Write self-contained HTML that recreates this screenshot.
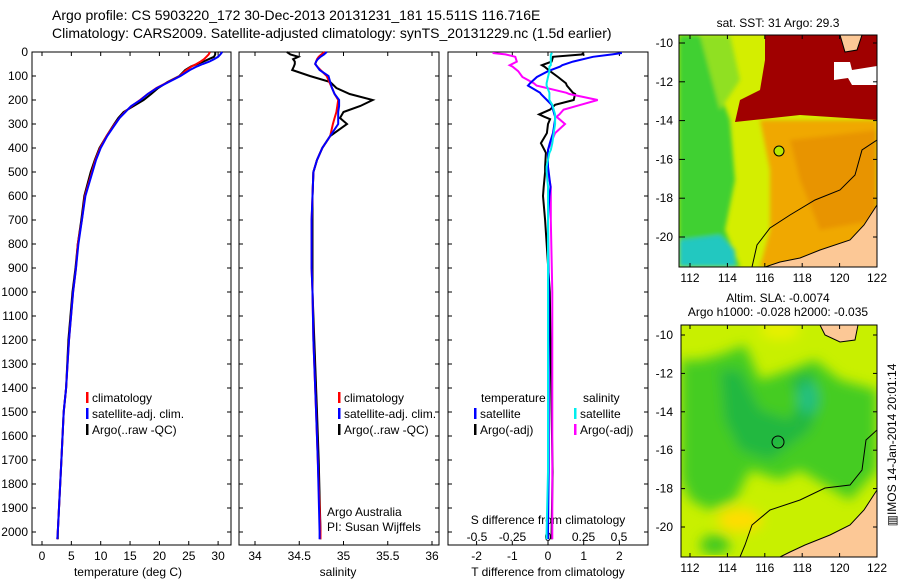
<!DOCTYPE html>
<html><head><meta charset="utf-8"><style>
body{margin:0;background:#fff;width:900px;height:580px;overflow:hidden}
svg{font-family:"Liberation Sans",sans-serif;font-size:12px}
</style></head><body>
<svg id="fig" width="900" height="580" viewBox="0 0 900 580" xmlns="http://www.w3.org/2000/svg">
<defs><filter id="bl" x="0" y="0" width="1" height="1"><feGaussianBlur stdDeviation="6"/></filter>
<filter id="bl2" x="0" y="0" width="1" height="1"><feGaussianBlur stdDeviation="2"/></filter>
<clipPath id="c1"><rect x="679" y="35" width="198" height="232"/></clipPath>
<clipPath id="c2"><rect x="681" y="325" width="196" height="232"/></clipPath></defs>
<text x="52" y="20" font-size="14">Argo profile: CS 5903220_172 30-Dec-2013 20131231_181 15.511S 116.716E</text>
<text x="52" y="38" font-size="14">Climatology: CARS2009. Satellite-adjusted climatology: synTS_20131229.nc (1.5d earlier)</text>

<!-- top map -->
<g clip-path="url(#c1)">
<rect x="679" y="35" width="198" height="232" fill="#d4ee00"/>
<g filter="url(#bl2)">
<polygon points="679,35 700,35 715,80 730,120 735,180 725,230 740,267 679,267" fill="#40d030"/>
<polygon points="700,35 730,35 740,80 720,110" fill="#90e020" />
<polygon points="679,240 720,235 735,250 735,267 679,267" fill="#20c8c0"/>
<polygon points="760,120 877,120 877,267 760,267 770,230 770,170" fill="#f0a800"/>
<polygon points="790,140 877,130 877,220 820,230 800,180" fill="#e89400"/>
</g>
<polygon points="765,35 877,35 877,120 800,115 735,122 740,100 760,90 765,60" fill="#a00000"/>
<polygon points="834,62 850,62 852,70 877,66 877,85 852,85 848,78 834,80" fill="#fff"/>
<polygon points="877,205 864,225 850,240 820,250 800,258 780,262 765,267 877,267" fill="#fcc896" stroke="#000" stroke-width="1"/>
<polygon points="840,35 862,35 857,50 845,52" fill="#fcc896" stroke="#000" stroke-width="1"/>
<polyline points="877,140 862,150 855,175 840,190 815,200 790,215 770,228 757,245 752,267" fill="none" stroke="#000" stroke-width="1"/>
<circle cx="779" cy="151" r="5" fill="#b8e800" stroke="#000"/>
</g>
<rect x="679" y="35" width="198" height="232" fill="none" stroke="#000"/>
<text x="778" y="27" text-anchor="middle">sat. SST: 31  Argo: 29.3</text>

<!-- bottom map -->
<g clip-path="url(#c2)">
<rect x="681" y="325" width="196" height="232" fill="#c8f000"/>
<g filter="url(#bl)">
<polygon points="681,360 700,360 720,355 745,345 760,380 790,370 815,360 840,380 877,390 877,470 850,500 800,470 780,480 750,470 735,500 710,510 690,500 681,480" fill="#44cc22"/>
<polygon points="720,370 740,370 760,410 790,420 800,400 790,380 810,370 820,400 810,430 770,460 740,450 725,420" fill="#20b840"/>
<ellipse cx="808" cy="398" rx="10" ry="16" fill="#20c080"/>
<ellipse cx="740" cy="520" rx="22" ry="12" fill="#ffdd00"/>
<ellipse cx="715" cy="545" rx="15" ry="10" fill="#40c820"/>
<ellipse cx="780" cy="330" rx="20" ry="10" fill="#e8f000"/>
</g>
<polygon points="877,490 864,510 850,525 830,535 805,545 790,552 780,557 877,557" fill="#fcc896" stroke="#000" stroke-width="1"/>
<polygon points="820,325 858,325 855,340 840,342 825,335" fill="#fcc896" stroke="#000" stroke-width="1"/>
<polyline points="877,430 866,440 862,470 850,485 825,488 800,500 770,510 752,525 745,545 740,557" fill="none" stroke="#000" stroke-width="1"/>
<circle cx="778" cy="442" r="6" fill="none" stroke="#000"/>
</g>
<rect x="681" y="325" width="196" height="232" fill="none" stroke="#000"/>
<text x="778" y="302" text-anchor="middle">Altim. SLA: -0.0074</text>
<text x="778" y="316" text-anchor="middle">Argo h1000: -0.028 h2000: -0.035</text>
<text transform="translate(896,445) rotate(-90)" text-anchor="middle">▥IMOS 14-Jan-2014 20:01:14</text>
<g id="dyn"></g>
</svg>
<script>
const depths=[0,10,20,30,40,50,60,75,100,125,150,175,200,225,250,275,300,350,400,450,500,600,700,800,900,1000,1200,1400,1500,1700,2000,2030];
const tempClim=[28.6,28.4,28,27.6,27,26.3,25.5,24.6,23.5,21.5,19.5,18,16.7,15.3,14.1,13.2,12.4,11,9.9,9.1,8.5,7.3,6.8,6.1,5.8,5.3,4.6,4.1,3.7,3.3,2.7,2.6];
const tempSat=[30.7,30.4,30,29.3,28.5,27.4,26.4,25.2,23.6,21.6,19.6,18,16.8,15.2,14.2,13.2,12.5,11.1,10,9.2,8.6,7.4,6.8,6.2,5.8,5.3,4.6,4.1,3.7,3.3,2.7,2.6];
const tempArgo=[29.5,29.5,29.3,28.4,27.5,26.5,25.4,24.4,23.4,21.4,19.8,18.6,17.3,15.6,13.9,13,12.3,11,9.8,9,8.3,7.2,6.7,6.1,5.7,5.2,4.5,4.1,3.7,3.3,2.7,2.7];
const salClim=[34.79,34.75,34.72,34.7,34.69,34.68,34.7,34.74,34.81,34.84,34.87,34.9,34.94,34.93,34.92,34.9,34.88,34.85,34.76,34.7,34.66,34.65,34.64,34.64,34.64,34.65,34.66,34.68,34.69,34.71,34.74,34.74];
const salSat=[34.81,34.78,34.74,34.71,34.69,34.68,34.7,34.73,34.83,34.85,34.87,34.9,34.95,34.95,34.94,34.94,34.94,34.85,34.76,34.7,34.66,34.65,34.64,34.64,34.64,34.65,34.66,34.68,34.69,34.71,34.73,34.73];
const salArgo=[34.36,34.4,34.49,34.43,34.45,34.45,34.44,34.42,34.62,34.85,34.92,35.07,35.33,35.19,35,34.96,35.04,34.85,34.76,34.7,34.66,34.65,34.65,34.65,34.65,34.65,34.67,34.69,34.7,34.72,34.74,34.74];
const dDepth=[4,10,20,40,55,61,80,104,130,140,170,175,200,220,240,260,270,280,300,338,380,408,420,478,500,562,600,700,1000,1500,1750,2000,2030];
const dTSat=[2.07,1.8,1.26,0.7,0.4,0.34,0,-0.31,-0.5,-0.56,-0.22,-0.2,-0.03,0.1,0.14,0.18,0.2,0.2,0.18,0.14,0.05,0,0,0,0.02,0.07,0.04,0,0.02,0.02,0.02,0,0];
const dTArgo=[0.95,0.98,0.14,0.1,-0.17,-0.1,0.06,0.28,0.5,0.53,0.7,0.76,0.72,0.2,0.06,-0.25,-0.1,0.06,0,-0.03,-0.2,-0.1,-0.06,-0.08,-0.08,-0.12,-0.14,-0.08,0.05,0.1,0.13,0.1,0.1];
const dSArgo=[-0.39,-0.3,-0.23,-0.22,-0.27,-0.25,-0.21,-0.18,-0.1,-0.08,0.13,0.15,0.35,0.23,0.11,0.08,0.06,0.08,0.12,0.05,0.02,0,0,0,0,0.02,0.02,0.02,0.03,0.03,0.03,0.03,0.03];
const dSSat=[0.03,0.02,0.02,0.02,0.02,0.01,0.01,0,-0.01,-0.01,0.01,0.01,0.01,0.03,0.04,0.05,0.05,0.05,0.05,0.04,0.03,0.02,0.01,-0.01,-0.01,0,0,0,0,0,0,-0.01,-0.01];
const depthTicks=[0,100,200,300,400,500,600,700,800,900,1000,1100,1200,1300,1400,1500,1600,1700,1800,1900,2000];
const tTicks=[0,5,10,15,20,25,30];
const sTicks=[34,34.5,35,35.5,36];
const sTickLabels=["34","34.5","35","35.5","36"];
const dtTicks=[-2,-1,0,1,2];
const dsTicks=[-0.5,-0.25,0,0.25,0.5];
const dsTickLabels=["-0.5","-0.25","0","0.25","0.5"];

const NS='http://www.w3.org/2000/svg';
const g=document.getElementById('dyn');
const Y=d=>52+d*0.24;
const xT=t=>42+t*5.87;
const xS=s=>255+(s-34)*88.5;
const xDT=v=>548+v*35.7;
const xDS=v=>548+v*142;
function mk(tag,attrs,parent){const e=document.createElementNS(NS,tag);for(const k in attrs)e.setAttribute(k,attrs[k]);(parent||g).appendChild(e);return e;}
function txt(x,y,s,anchor){const e=mk('text',{x:x,y:y,'text-anchor':anchor||'start'});e.textContent=s;return e;}
const panels=[[32,239-32-8],[239,200],[448,200]];
panels.forEach((p,i)=>{
  const r=mk('rect',{x:p[0],y:52,width:p[1],height:493,fill:'none',stroke:'#000'});
  
  
  depthTicks.forEach(d=>{
    mk('line',{x1:p[0],x2:p[0]+4,y1:Y(d),y2:Y(d),stroke:'#000'});
    mk('line',{x1:p[0]+p[1],x2:p[0]+p[1]-4,y1:Y(d),y2:Y(d),stroke:'#000'});
  });
});
depthTicks.forEach(d=>{const t=txt(28,Y(d)+4,String(d),'end');
  
  });
function xticks(ticks,labels,fx,yl){ticks.forEach((v,i)=>{const x=fx(v);
  mk('line',{x1:x,x2:x,y1:545,y2:541,stroke:'#000'});mk('line',{x1:x,x2:x,y1:52,y2:56,stroke:'#000'});
  const t=txt(x,yl,labels[i],'middle');
  
  });}
xticks(tTicks,tTicks.map(String),xT,560);
xticks(sTicks,sTickLabels,xS,560);
xticks(dtTicks,dtTicks.map(String),xDT,560);
dsTicks.forEach((v,i)=>{const t=txt(xDS(v),541,dsTickLabels[i],'middle');
  
  });
[[128,'temperature (deg C)','x-axis-title-temperature'],[338,'salinity','x-axis-title-salinity'],[548,'T difference from climatology','x-axis-title-t-diff']].forEach(a=>{
  const t=txt(a[0],576,a[1],'middle');});
const st=txt(548,524,'S difference from climatology','middle');


function line(xs,ds,fx,col,name){const pts=xs.map((v,i)=>fx(v).toFixed(1)+','+Y(ds[i]).toFixed(1)).join(' ');
  const e=mk('polyline',{points:pts,fill:'none',stroke:col,'stroke-width':2});
  
  }
line(tempArgo,depths,xT,'#000','temp-argo-line');
line(tempClim,depths,xT,'#f00','temp-climatology-line');
line(tempSat,depths,xT,'#00f','temp-satellite-line');
line(salArgo,depths,xS,'#000','sal-argo-line');
line(salClim,depths,xS,'#f00','sal-climatology-line');
line(salSat,depths,xS,'#00f','sal-satellite-line');
line(dTArgo,dDepth,xDT,'#000','tdiff-argo-line');
line(dSArgo,dDepth,xDS,'#f0f','sdiff-argo-line');
line(dTSat,dDepth,xDT,'#00f','tdiff-satellite-line');
line(dSSat,dDepth,xDS,'#0ee','sdiff-satellite-line');
function leg(x,y,col,label){mk('rect',{x:x,y:y-10,width:2.5,height:11,fill:col});
  const t=txt(x+6,y,label);}
[[86,'#f00','climatology'],[86,'#00f','satellite-adj. clim.'],[86,'#000','Argo(..raw -QC)']].forEach((a,i)=>leg(a[0],402+i*16,a[1],a[2]));
[[338,'#f00','climatology'],[338,'#00f','satellite-adj. clim.'],[338,'#000','Argo(..raw -QC)']].forEach((a,i)=>leg(a[0],402+i*16,a[1],a[2]));
const lt=txt(481,402,'temperature');
const ls=txt(583,402,'salinity');
leg(474,418,'#00f','satellite');leg(474,434,'#000','Argo(-adj)');
leg(574,418,'#0ee','satellite');leg(574,434,'#f0f','Argo(-adj)');
const a1=txt(327,516,'Argo Australia');
const a2=txt(327,531,'PI: Susan Wijffels');
// map axes
const lonTicks=[112,114,116,118,120,122];
const latTicks=[-10,-12,-14,-16,-18,-20];
[[43,237,267,35,'sst'],[335,527,557,325,'sla']].forEach(m=>{
  const xl=v=>690+(v-112)*18.7;
  const yl=v=>m[0]+(-10-v)*(m[1]-m[0])/10;
  lonTicks.forEach(v=>{mk('line',{x1:xl(v),x2:xl(v),y1:m[2],y2:m[2]-4,stroke:'#000'});mk('line',{x1:xl(v),x2:xl(v),y1:m[3],y2:m[3]+4,stroke:'#000'});
    const t=txt(xl(v),m[2]+15,String(v),'middle');});
  latTicks.forEach(v=>{mk('line',{x1:877,x2:873,y1:yl(v),y2:yl(v),stroke:'#000'});mk('line',{x1:m[4]=='sst'?679:681,x2:685,y1:yl(v),y2:yl(v),stroke:'#000'});
    const t=txt(673,yl(v)+4,String(v),'end');});
});
</script>
</body></html>
